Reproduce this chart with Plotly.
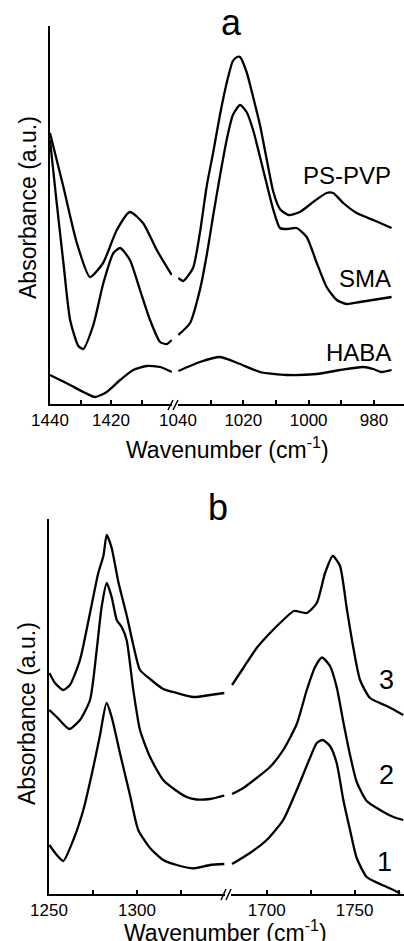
import plotly.graph_objects as go

# ---------------- data (panel a) ----------------
pspvp_L_x = [1440, 1435.6, 1431.2, 1426.9, 1422.6, 1418.1, 1413.8, 1409.5, 1405.0, 1400.1]
pspvp_L_y = [271, 217, 161, 127, 141, 174, 192, 181, 154, 129]
pspvp_R_x = [1039.9, 1038.4, 1035.4, 1033.3, 1031.2, 1029.2, 1027.1, 1025.1, 1023.2, 1021.9, 1021.0,
             1019.0, 1017.0, 1014.9, 1012.8, 1010.8, 1008.8, 1006.2, 1002.7, 998.6, 994.5, 992.5,
             989.4, 985.3, 980.2, 974.6]
pspvp_R_y = [126, 123, 136, 171, 218, 252, 290, 321, 343, 347, 347, 332, 307, 279, 244, 212, 195,
             189, 192, 202, 211, 211, 201, 191, 184, 176]

sma_L_x = [1440, 1437.8, 1435.6, 1433.4, 1430.7, 1429.1, 1425.8, 1422.5, 1419.2, 1417.0, 1413.8,
           1410.5, 1407.2, 1403.9, 1401.7, 1400.1]
sma_L_y = [264, 201, 141, 84, 58, 55, 79, 121, 151, 156, 144, 114, 84, 62, 60, 64]
sma_R_x = [1039.9, 1036.3, 1033.3, 1031.2, 1029.2, 1027.1, 1025.1, 1023.2, 1021.0, 1019.0, 1017.0,
           1013.9, 1010.8, 1008.8, 1006.7, 1003.7, 1000.6, 997.5, 994.5, 991.4, 988.4, 984.3, 974.6]
sma_R_y = [69, 81, 114, 149, 189, 229, 264, 289, 299, 292, 274, 234, 194, 176, 175, 176, 167, 141,
           117, 104, 100, 102, 107]

haba_L_x = [1440, 1433.4, 1429.1, 1425.2, 1421.4, 1417.0, 1412.7, 1408.3, 1403.9, 1400.1]
haba_L_y = [29, 19, 12, 7, 12, 24, 34, 38, 37, 32]
haba_R_x = [1039.9, 1033.3, 1027.1, 1021.0, 1014.9, 1006.7, 997.5, 990.4, 983.3, 980.2, 977.8, 974.6]
haba_R_y = [33, 42, 47, 40, 32, 29, 30, 34, 37, 35, 32, 34]

# ---------------- data (panel b) ----------------
c3_L_x = [1250.2, 1253.4, 1258.1, 1261.9, 1267.6, 1273.3, 1278.0, 1280.9, 1282.8, 1285.6, 1289.4,
          1294.1, 1297.9, 1301.7, 1307.4, 1314.9, 1322.6, 1332.0, 1341.5, 1349.6]
c3_L_y = [221, 211, 204, 209, 234, 281, 321, 338, 359, 346, 312, 279, 249, 224, 215, 205, 201, 197,
          199, 201]
c3_R_x = [1680.3, 1686.7, 1694.3, 1701.9, 1709.4, 1715.5, 1722.8, 1728.5, 1733.2, 1737.6, 1741.7,
          1745.5, 1749.3, 1753.1, 1758.8, 1768.3, 1777.7]
c3_R_y = [209, 226, 246, 261, 274, 283, 281, 291, 321, 338, 328, 286, 246, 214, 196, 188, 179]

c2_L_x = [1250.2, 1254.4, 1261.5, 1267.6, 1273.3, 1277.1, 1279.9, 1282.8, 1285.6, 1288.5, 1291.3,
          1294.1, 1297.9, 1301.7, 1307.4, 1314.9, 1322.6, 1328.2, 1333.9, 1341.5, 1349.6]
c2_L_y = [184, 177, 165, 174, 194, 244, 287, 311, 297, 274, 267, 254, 204, 164, 137, 114, 103, 97,
          94.5, 95, 98.5]
c2_R_x = [1680.3, 1686.7, 1694.3, 1701.9, 1709.4, 1717.1, 1722.8, 1727.5, 1731.5, 1736.0, 1739.8,
          1743.6, 1747.4, 1751.2, 1756.9, 1764.5, 1772.1, 1777.7]
c2_R_y = [100, 106, 116, 127, 144, 170, 204, 227, 236.5, 228, 207, 172, 139, 112, 93, 84, 77, 74]

c1_L_x = [1250.2, 1254.4, 1258.1, 1263.8, 1269.5, 1275.2, 1279.0, 1282.7, 1285.6, 1290.3, 1296.0,
          1300.7, 1307.4, 1314.9, 1322.6, 1332.0, 1341.5, 1349.6]
c1_L_y = [49, 39, 33, 54, 84, 127, 159, 191, 177, 141, 99, 64, 46, 34, 29, 25.7, 29, 30]
c1_R_x = [1680.3, 1690.5, 1700.0, 1709.4, 1717.1, 1724.6, 1728.5, 1731.8, 1736.0, 1739.8, 1743.6,
          1747.4, 1751.2, 1756.9, 1764.5, 1772.1, 1775.9]
c1_R_y = [30, 41, 54, 74, 104, 136, 151, 154, 148, 131, 94, 64, 36, 17, 10, 4, 0.5]

# tick values (major labelled, minor unlabelled)
a_left_ticks = [1440, 1420]
a_left_minor = [1430, 1410]
a_right_ticks = [1040, 1020, 1000, 980]
a_right_minor = [1030, 1010, 990]
b_left_ticks = [1250, 1300]
b_left_minor = [1275, 1325]
b_right_ticks = [1700, 1750]
b_right_minor = [1725, 1775]

# ---------------- figure ----------------
W, H = 404, 941
FONT = "Liberation Sans, Arial, sans-serif"


def px(x):
    return x / W


def py(y):
    return (H - y) / H


fig = go.Figure()


def add(xs, ys, xa, ya):
    fig.add_trace(go.Scatter(x=xs, y=ys, mode="lines",
                             line=dict(color="black", width=2.3, shape="spline", smoothing=0.6),
                             xaxis=xa, yaxis=ya, showlegend=False, hoverinfo="skip"))


add(pspvp_L_x, pspvp_L_y, "x", "y")
add(pspvp_R_x, pspvp_R_y, "x2", "y")
add(sma_L_x, sma_L_y, "x", "y")
add(sma_R_x, sma_R_y, "x2", "y")
add(haba_L_x, haba_L_y, "x", "y")
add(haba_R_x, haba_R_y, "x2", "y")
add(c3_L_x, c3_L_y, "x3", "y2")
add(c3_R_x, c3_R_y, "x4", "y2")
add(c2_L_x, c2_L_y, "x3", "y2")
add(c2_R_x, c2_R_y, "x4", "y2")
add(c1_L_x, c1_L_y, "x3", "y2")
add(c1_R_x, c1_R_y, "x4", "y2")


def xax(domain, rng, anchor, tv, mv):
    return dict(domain=domain, range=rng, anchor=anchor, showline=True, linecolor="black",
                linewidth=1.5, ticks="inside", ticklen=4, tickwidth=1.5, tickcolor="black",
                tickmode="array", tickvals=tv, ticktext=[str(v) for v in tv],
                tickfont=dict(family=FONT, size=17, color="black"),
                minor=dict(tickmode="array", tickvals=mv, ticks="inside", ticklen=4,
                           tickwidth=1.5, tickcolor="black", showgrid=False),
                showgrid=False, zeroline=False, fixedrange=True, automargin=False)


def yax(domain, rng, anchor):
    return dict(domain=domain, range=rng, anchor=anchor, showline=True, linecolor="black",
                linewidth=1.5, ticks="", showticklabels=False, showgrid=False, zeroline=False,
                fixedrange=True, automargin=False)


fig.update_layout(
    template="none",
    width=W, height=H, autosize=False,
    margin=dict(l=0, r=0, t=0, b=0, pad=0, autoexpand=False),
    paper_bgcolor="white", plot_bgcolor="white",
    font=dict(family=FONT, color="black"),
    xaxis=xax([px(50), px(172)], [1440, 1400], "y", a_left_ticks, a_left_minor),
    xaxis2=xax([px(178), 1], [1040, 970.8], "y", a_right_ticks, a_right_minor),
    yaxis=yax([py(404), py(26)], [0, 378], "x"),
    xaxis3=xax([px(49), px(225)], [1250, 1350], "y2", b_left_ticks, b_left_minor),
    xaxis4=xax([px(231), 1], [1679.7, 1778.1], "y2", b_right_ticks, b_right_minor),
    yaxis2=yax([py(894), py(519)], [0, 375], "x3"),
)

# axis-break marks
shapes = []
for (x0, y0, x1, y1) in [(168, 410, 173, 400), (173, 410, 178, 400),
                         (221, 900, 226, 889), (226, 900, 231, 889)]:
    shapes.append(dict(type="line", xref="paper", yref="paper",
                       x0=px(x0), y0=py(y0), x1=px(x1), y1=py(y1),
                       line=dict(color="black", width=1.5)))
fig.update_layout(shapes=shapes)

ann = []


def label(text, x, y, size, xanchor="center", angle=0):
    ann.append(dict(text=text, x=px(x), y=py(y), xref="paper", yref="paper", showarrow=False,
                    xanchor=xanchor, yanchor="middle", textangle=angle,
                    font=dict(family=FONT, size=size, color="black")))


label("a", 232, 22, 36)
label("b", 218, 507, 36)
label("PS-PVP", 393, 175, 24, "right")
label("SMA", 393, 279, 24, "right")
label("HABA", 393, 352, 24, "right")
label("3", 396, 680, 27, "right")
label("2", 396, 775, 27, "right")
label("1", 394, 862, 27, "right")
label("Absorbance (a.u.)", 28, 208, 23, angle=-90)
label("Absorbance (a.u.)", 27, 714, 23, angle=-90)
label("Wavenumber (cm<sup>-1</sup>)", 227, 448, 23)
label("Wavenumber (cm<sup>-1</sup>)", 225, 931, 23)
fig.update_layout(annotations=ann)

fig.write_html("out.html")
